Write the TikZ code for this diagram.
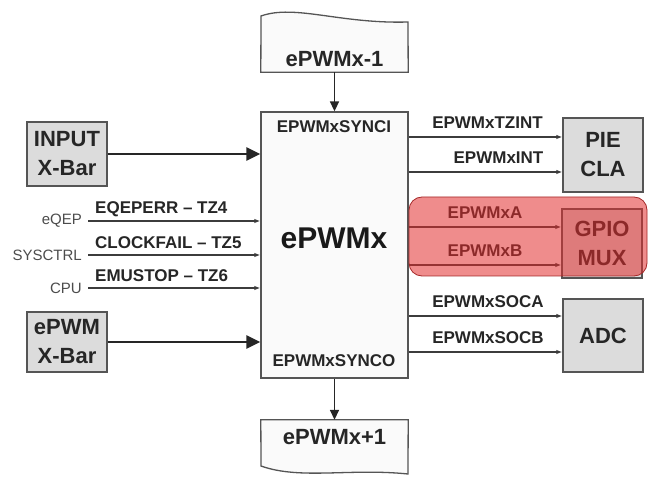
\documentclass[tikz,border=0pt]{standalone}
\usepackage{fontspec}
\setmainfont{Liberation Sans}
\usepackage{xcolor}
\usetikzlibrary{positioning,calc,arrows.meta}

\definecolor{edge}{RGB}{85,85,85}
\definecolor{wire}{RGB}{60,60,60}
\definecolor{boxgray}{RGB}{220,220,220}
\definecolor{hilite}{RGB}{225,45,45}
\definecolor{hiliteedge}{RGB}{165,40,40}

\tikzset{
  blk/.style={draw=edge, line width=1.3pt, fill=boxgray, minimum width=80pt, inner sep=0pt, align=center, font=\fontsize{22}{29}\selectfont\bfseries, text=black!85},
  modbox/.style={draw=edge, line width=1.3pt, fill=black!2},
  sig/.style={draw=wire, line width=1.2pt, -{Latex[length=6pt,width=4.5pt]}},
  fat/.style={draw=black!85, line width=2.4pt, -{Triangle[length=14pt,width=13pt]}},
  sync/.style={draw=black!85, line width=1.6pt, -{Triangle[length=10pt,width=9pt]}},
  lab/.style={font=\fontsize{17}{18}\selectfont\bfseries, text=black!85, inner sep=0pt},
  src/.style={font=\fontsize{15}{16}\selectfont, text=black!70, inner sep=0pt},
}

\begin{document}
\begin{tikzpicture}[x=1pt, y=-1pt]
    \useasboundingbox (0,0) rectangle (648,478);

    % ePWMx core
    \node [modbox, minimum width=147pt, minimum height=266pt] (main) at (334.5,245) {};
    \node [font=\fontsize{30}{32}\selectfont\bfseries, text=black!90] (core) at (334,238) {ePWMx};
    \node [lab] (synci) at (334,127) {EPWMxSYNCI};
    \node [lab] (synco) at (334,361) {EPWMxSYNCO};

    % neighbour modules
    \node [minimum width=147pt, minimum height=56pt, inner sep=0pt] (prev) at (334.5,44) {};
    \draw [modbox] (prev.south west) -- (261,16) .. controls (295,4) and (340,24) .. (408,22) -- (prev.south east) -- cycle;
    \node [blk, draw=none, fill=none] (prevtxt) at (334.5,59) {ePWMx-1};

    \node [minimum width=147pt, minimum height=48pt, inner sep=0pt] (next) at (334.5,444) {};
    \draw [modbox] (next.north west) -- (261,466) .. controls (300,480) and (350,468) .. (408,474) -- (next.north east) -- cycle;
    \node [blk, draw=none, fill=none] (nexttxt) at (334.5,437) {ePWMx+1};

    \draw [sync] (prev.south) -- (main.north);
    \draw [sync] (main.south) -- (next.north);

    % X-Bars
    \node [blk, minimum height=64pt] (inxbar) at (67,154) {INPUT\\X-Bar};
    \node [blk, minimum height=60pt] (epxbar) at (67,342) {ePWM\\X-Bar};
    \draw [fat] (inxbar) -- (inxbar -| main.west);
    \draw [fat] (epxbar) -- (epxbar -| main.west);

    % Trip zone inputs
    \foreach \y/\from/\trip [count=\i] in {221/eQEP/EQEPERR -- TZ4, 255/SYSCTRL/CLOCKFAIL -- TZ5, 288/CPU/EMUSTOP -- TZ6} {
        \node [src, anchor=east] (src\i) at (82,\y) {\from};
        \node [lab, anchor=west] (tz\i) at (95,\y-12) {\trip};
        \draw [sig] ([xshift=6pt]src\i.east) -- (src\i.east -| main.west);
    }

    % Destinations
    \node [blk, minimum height=74pt] (pie) at (603,155) {PIE\\CLA};
    \node [blk, minimum height=69pt] (gpio) at (602,243.5) {GPIO\\MUX};
    \node [blk, minimum height=73pt] (adc) at (603,335.5) {ADC};

    % Outputs
    \foreach \y/\out/\dest/\lx [count=\j] in {137/EPWMxTZINT/pie/487.5, 172/EPWMxINT/pie/498.5, 227/EPWMxA/gpio/485, 265/EPWMxB/gpio/485, 316/EPWMxSOCA/adc/488, 352/EPWMxSOCB/adc/488} {
        \coordinate (o\j) at (main.east |- 0,\y);
        \node [lab] (out\j) at (\lx,\y-14) {\out};
        \draw [sig] (o\j) -- (o\j -| \dest.west);
    }

    % PWM outputs highlight
    \draw [rounded corners=13pt, draw=hiliteedge, line width=0.8pt, fill=hilite, fill opacity=0.55] (409,197) rectangle (647,276);
\end{tikzpicture}
\end{document}
